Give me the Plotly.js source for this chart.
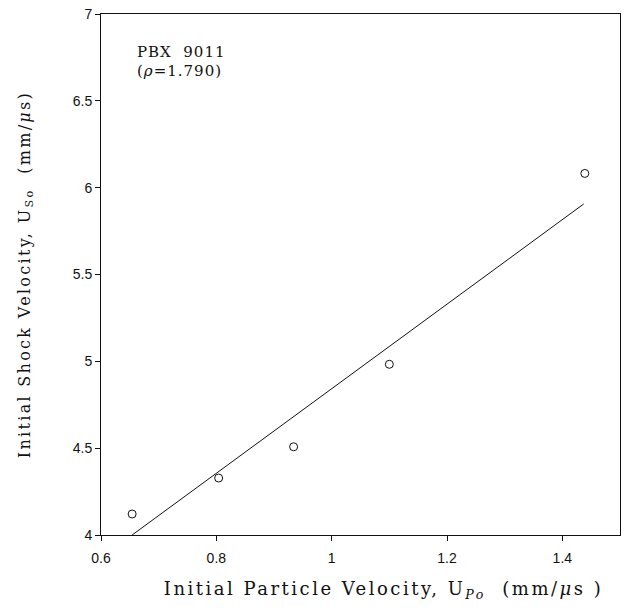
<!DOCTYPE html>
<html>
<head>
<meta charset="utf-8">
<script src="https://cdn.plot.ly/plotly-3.0.1.min.js"></script>
<style>
html,body{margin:0;padding:0;background:#fff;}
#chart{width:624px;height:611px;}
.xtitle{letter-spacing:2.5px;transform:translate(23px,0px);}
.ytitle{letter-spacing:2.3px;}
.annotation-text{letter-spacing:1px;}
</style>
</head>
<body>
<div id="chart"></div>
<script>
// Measured data points (initial particle velocity vs initial shock velocity)
var upData = [0.654, 0.804, 0.934, 1.100, 1.439];
var usData = [4.121, 4.328, 4.508, 4.983, 6.082];
// Fit line endpoints
var upFit = [0.654, 1.437];
var usFit = [4.000, 5.906];
var xTicks = [0.6, 0.8, 1, 1.2, 1.4];
var xTickText = ["0.6", "0.8", "1", "1.2", "1.4"];
var yTicks = [4, 4.5, 5, 5.5, 6, 6.5, 7];
var yTickText = ["4", "4.5", "5", "5.5", "6", "6.5", "7"];
var labelLine1 = "PBX  9011";
var labelLine2 = "(<i>ρ</i>=1.790)";

var traces = [
  {x: upFit, y: usFit, mode: 'lines', type: 'scatter',
   line: {color: '#111', width: 1}, hoverinfo: 'skip'},
  {x: upData, y: usData, mode: 'markers', type: 'scatter',
   marker: {symbol: 'circle-open', size: 8, color: '#111', line: {width: 1, color: '#111'}}}
];

var serif = 'DejaVu Serif, serif';
var sans = 'Liberation Sans, Arial, sans-serif';

var layout = {
  width: 624, height: 611,
  margin: {l: 101, r: 4, t: 14, b: 76},
  paper_bgcolor: '#fff', plot_bgcolor: '#fff',
  showlegend: false,
  font: {family: sans, color: '#111', size: 14},
  xaxis: {
    range: [0.6, 1.5], tickmode: 'array', tickvals: xTicks, ticktext: xTickText,
    showgrid: false, zeroline: false, showline: true, linecolor: '#111', linewidth: 1,
    mirror: true, ticks: 'outside', ticklen: 5, tickcolor: '#111', ticklabelstandoff: 5,
    tickfont: {size: 14, family: sans},
    title: {text: 'Initial Particle Velocity, U<sub><i>Po</i></sub>  (mm/<i>μ</i>s )',
            font: {family: serif, size: 18}, standoff: 17}
  },
  yaxis: {
    range: [4, 7], tickmode: 'array', tickvals: yTicks, ticktext: yTickText,
    showgrid: false, zeroline: false, showline: true, linecolor: '#111', linewidth: 1,
    mirror: true, ticks: 'outside', ticklen: 5, tickcolor: '#111',
    tickfont: {size: 14, family: sans},
    title: {text: 'Initial Shock Velocity, U<sub>So</sub>  (mm/<i>μ</i>s)',
            font: {family: serif, size: 16}, standoff: 38}
  },
  annotations: [
    {xref: 'paper', yref: 'paper', x: 0.066, y: 0.927, xanchor: 'left', yanchor: 'middle',
     align: 'left', showarrow: false, text: labelLine1,
     font: {family: serif, size: 15, color: '#111'}},
    {xref: 'paper', yref: 'paper', x: 0.066, y: 0.891, xanchor: 'left', yanchor: 'middle',
     align: 'left', showarrow: false, text: labelLine2,
     font: {family: serif, size: 15, color: '#111'}}
  ]
};

Plotly.newPlot('chart', traces, layout, {displayModeBar: false, staticPlot: true});
</script>
</body>
</html>
